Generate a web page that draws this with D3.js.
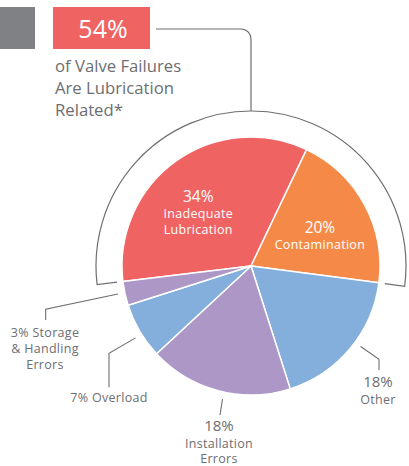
<!DOCTYPE html>
<html>
<head>
<meta charset="utf-8">
<script src="https://cdn.jsdelivr.net/npm/d3@7"></script>
<style>
  html, body { margin: 0; padding: 0; background: #ffffff; }
  svg { display: block; }
  text { font-family: "Open Sans", "Noto Sans", sans-serif; }
</style>
</head>
<body>
<div id="chart"></div>
<script>
// ---------- data ----------
const categories = ["Inadequate Lubrication", "Contamination", "Other", "Installation Errors", "Overload", "Storage & Handling Errors"];
const values = [34, 20, 18, 18, 7, 3];
const colors = ["#F06363", "#F58A48", "#84AEDC", "#AC97C7", "#84AEDC", "#AC97C7"];
const labelLines = [
  ["34%", "Inadequate", "Lubrication"],
  ["20%", "Contamination"],
  ["18%", "Other"],
  ["18%", "Installation", "Errors"],
  ["7% Overload"],
  ["3% Storage", "& Handling", "Errors"]
];
const headline = "54%";
const headlineText = ["of Valve Failures", "Are Lubrication", "Related*"];
const bracketCategories = ["Inadequate Lubrication", "Contamination"];

// ---------- layout ----------
const W = 409, H = 466;
const cx = 251, cy = 266, R = 129;
const bracketR = 155, tickR = 135, leaderR = 136;
const deg = Math.PI / 180;
const textGray = "#6D6E71";
const lineGray = "#6D6E71";

const svg = d3.select("#chart").append("svg").attr("width", W).attr("height", H);

// header boxes
svg.append("rect").attr("x", 0).attr("y", 7).attr("width", 35).attr("height", 42).attr("fill", "#808184");
svg.append("rect").attr("x", 53).attr("y", 7).attr("width", 97).attr("height", 42).attr("fill", "#F06363");
svg.append("text").attr("x", 103).attr("y", 38).attr("text-anchor", "middle")
  .attr("fill", "#ffffff").attr("font-size", 25).text(headline);
svg.append("g").selectAll("text").data(headlineText).join("text")
  .attr("x", 55).attr("y", (d, i) => 72 + i * 22)
  .attr("fill", textGray).attr("font-size", 16.7).text(d => d);

// pie
const pie = d3.pie().sort(null).value(d => d.value).startAngle(-96.9 * deg).endAngle((360 - 96.9) * deg);
const data = categories.map((c, i) => ({ name: c, value: values[i], color: colors[i], lines: labelLines[i] }));
const arcs = pie(data);
const arcGen = d3.arc().innerRadius(0).outerRadius(R);
const g = svg.append("g").attr("transform", `translate(${cx},${cy})`);

g.selectAll("path.slice").data(arcs).join("path")
  .attr("class", "slice")
  .attr("d", arcGen)
  .attr("fill", d => d.data.color)
  .attr("stroke", "#ffffff").attr("stroke-width", 1.5).attr("stroke-linejoin", "round");

// bracket arc around the lubrication-related slices
const br = arcs.filter(a => bracketCategories.includes(a.data.name));
const bStart = d3.min(br, a => a.startAngle), bEnd = d3.max(br, a => a.endAngle);
const pt = (r, a) => [r * Math.sin(a), -r * Math.cos(a)];
const bp = d3.path();
let p0 = pt(tickR, bStart), p1 = pt(bracketR, bStart);
bp.moveTo(p0[0], p0[1]);
bp.lineTo(p1[0], p1[1]);
bp.arc(0, 0, bracketR, bStart - Math.PI / 2, bEnd - Math.PI / 2, false);
let p2 = pt(tickR, bEnd);
bp.lineTo(p2[0], p2[1]);
g.append("path").attr("d", bp.toString()).attr("fill", "none")
  .attr("stroke", lineGray).attr("stroke-width", 1.2);

// connector from arc top to headline box
const cp = d3.path();
const cr = 10;
cp.moveTo(0, -bracketR);
cp.lineTo(0, 29 - cy + cr);
cp.arcTo(0, 29 - cy, -cr, 29 - cy, cr);
cp.lineTo(156 - cx, 29 - cy);
g.append("path").attr("d", cp.toString()).attr("fill", "none")
  .attr("stroke", lineGray).attr("stroke-width", 1.2);

// inside labels
const labelArc = d3.arc().innerRadius(75).outerRadius(75);
const insideOffsets = { "Inadequate Lubrication": [-9, -3], "Contamination": [3, 2.5] };
arcs.filter(a => insideOffsets[a.data.name]).forEach(a => {
  const c = labelArc.centroid(a);
  const off = insideOffsets[a.data.name];
  const t = g.append("text").attr("text-anchor", "middle").attr("fill", "#ffffff");
  a.data.lines.forEach((ln, i) => {
    t.append("tspan").attr("x", c[0] + off[0]).attr("y", c[1] + off[1] + (i === 0 ? 0 : 16 * i))
      .attr("font-size", i === 0 ? 15.5 : 12.5).attr("letter-spacing", i === 0 ? 0 : 0.3).text(ln);
  });
});

// outside labels with leaders (positions relative to pie centre)
const outside = {
  "Other":                     { da: -3.6, elbow: [128, 93.3], endY: 104, tx: 127, ty: [120.8, 137.5], big: true },
  "Installation Errors":       { da: -2.6, elbow: [-31, 149], endY: 149, tx: -32, ty: [165.2, 181.8, 197.3], big: true },
  "Overload":                  { da: -1.6, elbow: [-142, 87.3], endY: 121.3, tx: -142, ty: [135.7], big: false },
  "Storage & Handling Errors": { da: 0.4, elbow: [-205.3, 43.3], endY: 54, tx: -206, ty: [70.7, 86.7, 102.7], big: false }
};
arcs.filter(a => outside[a.data.name]).forEach(a => {
  const o = outside[a.data.name];
  const mid = (a.startAngle + a.endAngle) / 2 + o.da * deg;
  const s = pt(leaderR, mid);
  const pts = [s, o.elbow, [o.elbow[0], o.endY]];
  g.append("path").attr("d", d3.line()(pts)).attr("fill", "none")
    .attr("stroke", lineGray).attr("stroke-width", 1.1);
  const t = g.append("text").attr("text-anchor", "middle").attr("fill", textGray);
  a.data.lines.forEach((ln, i) => {
    t.append("tspan").attr("x", o.tx).attr("y", o.ty[i])
      .attr("font-size", (o.big && i === 0) ? 15 : 12.5).attr("letter-spacing", (o.big && i === 0) ? 0 : 0.3).text(ln);
  });
});
</script>
</body>
</html>
